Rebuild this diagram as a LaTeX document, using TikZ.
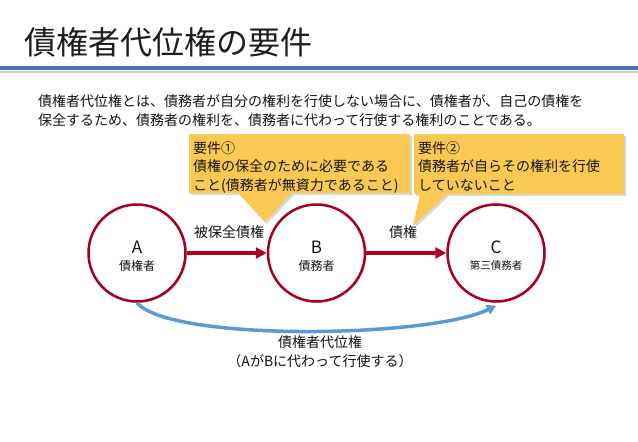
\documentclass[tikz,border=0pt]{standalone}
\usepackage{fontspec}
\setmainfont{Noto Sans CJK JP}
\usetikzlibrary{shadows,arrows.meta}
\definecolor{titlec}{RGB}{30,30,30}
\definecolor{rulec}{RGB}{79,113,175}
\definecolor{callc}{RGB}{250,201,84}
\definecolor{circc}{RGB}{165,0,33}
\definecolor{arrc}{RGB}{180,0,30}
\definecolor{bluec}{RGB}{91,155,213}
\definecolor{txtc}{RGB}{20,20,20}
\tikzset{
  callbox/.style={fill=callc, drop shadow={opacity=0.3, shadow xshift=2pt, shadow yshift=-2pt}},
  calltext/.style={anchor=north west, align=left, inner sep=0pt, text=txtc, font=\fontsize{14}{18.5}\selectfont},
  circ/.style={circle, draw=circc, line width=2.5pt, fill=white, minimum size=97pt, inner sep=0pt,
    drop shadow={opacity=0.25, shadow xshift=1.5pt, shadow yshift=-1.5pt}},
  bigletter/.style={font=\fontsize{17}{20}\selectfont, text=txtc, inner sep=0pt},
  smallrole/.style={font=\fontsize{12}{14}\selectfont, text=txtc, inner sep=0pt},
  redarr/.style={draw=arrc, line width=3.5pt, -{Triangle[length=11pt,width=11pt]}},
  bluearr/.style={draw=bluec, line width=3.5pt, -{Triangle[length=9pt,width=10pt]}},
  lbl/.style={font=\fontsize{14}{19}\selectfont, text=txtc, inner sep=0pt},
}
\begin{document}
\begin{tikzpicture}[x=1pt,y=-1pt]
\fill[white] (0,0) rectangle (638,442);
\useasboundingbox (0,0) rectangle (638,442);
% title
\node[anchor=west, inner sep=0pt, text=titlec, font=\fontsize{32}{36}\selectfont] (title) at (24,42) {債権者代位権の要件};
\draw[black!20, line width=2pt] (0,71.5) -- (638,71.5);
\draw[rulec, line width=4pt] (0,68) -- (638,68);
% intro
\node[anchor=north west, align=left, inner sep=0pt, text=txtc, font=\fontsize{14}{19}\selectfont] (intro) at (38,94)
  {債権者代位権とは、債務者が自分の権利を行使しない場合に、債権者が、自己の債権を\\保全するため、債務者の権利を、債務者に代わって行使する権利のことである。};
% callouts
\fill[callbox] (189,134) -- (410,134) -- (410,193) -- (292,193) -- (265,222) -- (238,193) -- (189,193) -- cycle;
\fill[callbox] (414,134) -- (624,134) -- (624,194) -- (447,194) -- (413,226) -- (420,194) -- (414,194) -- cycle;
\node[calltext] (req1) at (193,141) {要件①\\債権の保全のために必要である\\こと(債務者が無資力であること)};
\node[calltext] (req2) at (418,141) {要件②\\債務者が自らその権利を行使\\していないこと};
% circles
\node[circ] (A) at (137,253) {};
\node[circ] (B) at (316.5,253) {};
\node[circ] (C) at (496,253) {};
\node[bigletter] (Al) at ([yshift=6pt]A.center) {A};
\node[smallrole] (Ar) at ([yshift=-12.5pt]A.center) {債権者};
\node[bigletter] (Bl) at ([yshift=6pt]B.center) {B};
\node[smallrole] (Br) at ([yshift=-12.5pt]B.center) {債務者};
\node[bigletter] (Cl) at ([yshift=6pt]C.center) {C};
\node[smallrole, font=\fontsize{10.5}{12}\selectfont] (Cr) at ([yshift=-12.5pt]C.center) {第三債務者};
% arrows
\draw[redarr] (A) -- (B);
\draw[redarr] (B) -- (C);
\node[lbl] (lab1) at (229,232) {被保全債権};
\node[lbl] (lab2) at (403,232) {債権};
\draw[bluearr] (A.south) .. controls (170,342) and (430,338) .. ([yshift=-3pt]C.south);
\node[lbl, align=center] (cap) at (320,352) {債権者代位権\\（AがBに代わって行使する）};
\end{tikzpicture}
\end{document}
